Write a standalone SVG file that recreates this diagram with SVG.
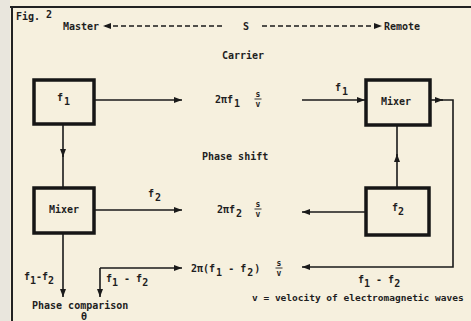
<svg xmlns="http://www.w3.org/2000/svg" width="471" height="321" viewBox="0 0 471 321">
<defs>
<style>
text{font-family:"DejaVu Sans Mono","Liberation Mono",monospace;font-size:10px;font-weight:bold;fill:#1e1e1e}
.sm{font-size:8px}
.vel{font-size:9.5px}
.box{fill:none;stroke:#161616;stroke-width:3.5}
.ln{fill:none;stroke:#1a1a1a;stroke-width:1.6}
.dash{fill:none;stroke:#1a1a1a;stroke-width:1.4;stroke-dasharray:5 3}
.frame{fill:none;stroke:#222;stroke-width:2}
.bar{stroke:#1e1e1e;stroke-width:0.9}
</style>
<marker id="ah" markerUnits="userSpaceOnUse" markerWidth="9" markerHeight="7" refX="8" refY="3" orient="auto">
<path d="M0,0 L8,3 L0,6 Z" fill="#1a1a1a"/>
</marker>
</defs>
<rect width="471" height="321" fill="#f6f0de"/>
<rect width="10" height="321" fill="#e9e6dd"/>
<path class="frame" d="M10,7 L471,7 M12,7 L12,321"/>

<text x="16" y="20">Fig. <tspan dy="-2">2</tspan></text>
<text x="63" y="30">Master</text>
<text x="243" y="30">S</text>
<text x="384" y="30">Remote</text>
<text x="222" y="59">Carrier</text>
<text x="202" y="160">Phase shift</text>
<text class="vel" x="252" y="301">v = velocity of electromagnetic waves</text>
<text x="32" y="309">Phase comparison</text>
<text x="81" y="320">θ</text>

<g id="formula-carrier">
<text x="215" y="103">2πf<tspan dx="1" dy="4">1</tspan></text>
<text class="sm" x="258" y="97" text-anchor="middle">s</text>
<line class="bar" x1="254.5" y1="99" x2="261.5" y2="99"/>
<text class="sm" x="258" y="107" text-anchor="middle">v</text>
</g>
<g id="formula-shift">
<text x="217" y="213">2πf<tspan dx="1" dy="4">2</tspan></text>
<text class="sm" x="258" y="207" text-anchor="middle">s</text>
<line class="bar" x1="254.5" y1="209" x2="261.5" y2="209"/>
<text class="sm" x="258" y="217" text-anchor="middle">v</text>
</g>
<g id="formula-diff">
<text x="191" y="272">2π(f<tspan dx="1" dy="4">1</tspan><tspan dy="-4"> - f</tspan><tspan dx="1" dy="4">2</tspan><tspan dx="1" dy="-4">)</tspan></text>
<text class="sm" x="279" y="266" text-anchor="middle">s</text>
<line class="bar" x1="275.5" y1="268" x2="282.5" y2="268"/>
<text class="sm" x="279" y="276" text-anchor="middle">v</text>
</g>

<g id="node-f1">
<rect class="box" x="34" y="80" width="60" height="44"/>
<text x="57" y="101">f<tspan dx="1" dy="4">1</tspan></text>
</g>
<g id="node-mixer-left">
<rect class="box" x="34" y="188" width="60" height="45"/>
<text x="64" y="213" text-anchor="middle">Mixer</text>
</g>
<g id="node-mixer-right">
<rect class="box" x="366" y="80" width="64" height="45"/>
<text x="396" y="105" text-anchor="middle">Mixer</text>
</g>
<g id="node-f2">
<rect class="box" x="366" y="188" width="63" height="47"/>
<text x="392" y="211">f<tspan dx="0" dy="4">2</tspan></text>
</g>

<g id="connectors">
<path class="dash" d="M222,26 L103,26" marker-end="url(#ah)"/>
<path class="dash" d="M262,26 L382,26" marker-end="url(#ah)"/>
<path class="ln" d="M95,100 L182,100" marker-end="url(#ah)"/>
<path class="ln" d="M302,100 L365,100" marker-end="url(#ah)"/>
<path class="ln" d="M63,125 L63,157" marker-end="url(#ah)"/>
<path class="ln" d="M63,155 L63,187"/>
<path class="ln" d="M95,210 L182,210" marker-end="url(#ah)"/>
<path class="ln" d="M397,187 L397,154" marker-end="url(#ah)"/>
<path class="ln" d="M397,156 L397,126"/>
<path class="ln" d="M366,212 L302,212" marker-end="url(#ah)"/>
<path class="ln" d="M431,100 L443,100" marker-end="url(#ah)"/>
<path class="ln" d="M441,100 L453,100 L453,267 L302,267" marker-end="url(#ah)"/>
<path class="ln" d="M63,234 L63,297" marker-end="url(#ah)"/>
<path class="ln" d="M100,268 L182,268" marker-end="url(#ah)"/>
<path class="ln" d="M100,268 L100,297" marker-end="url(#ah)"/>
</g>

<g id="labels">
<text x="335" y="91">f<tspan dx="1" dy="4">1</tspan></text>
<text x="148" y="197">f<tspan dx="1" dy="4">2</tspan></text>
<text x="24" y="280">f<tspan dy="4">1</tspan><tspan dy="-4">-f</tspan><tspan dy="4">2</tspan></text>
<text x="106" y="282">f<tspan dy="4">1</tspan><tspan dy="-4"> - f</tspan><tspan dy="4">2</tspan></text>
<text x="358" y="283">f<tspan dy="4">1</tspan><tspan dy="-4"> - f</tspan><tspan dy="4">2</tspan></text>
</g>
</svg>
